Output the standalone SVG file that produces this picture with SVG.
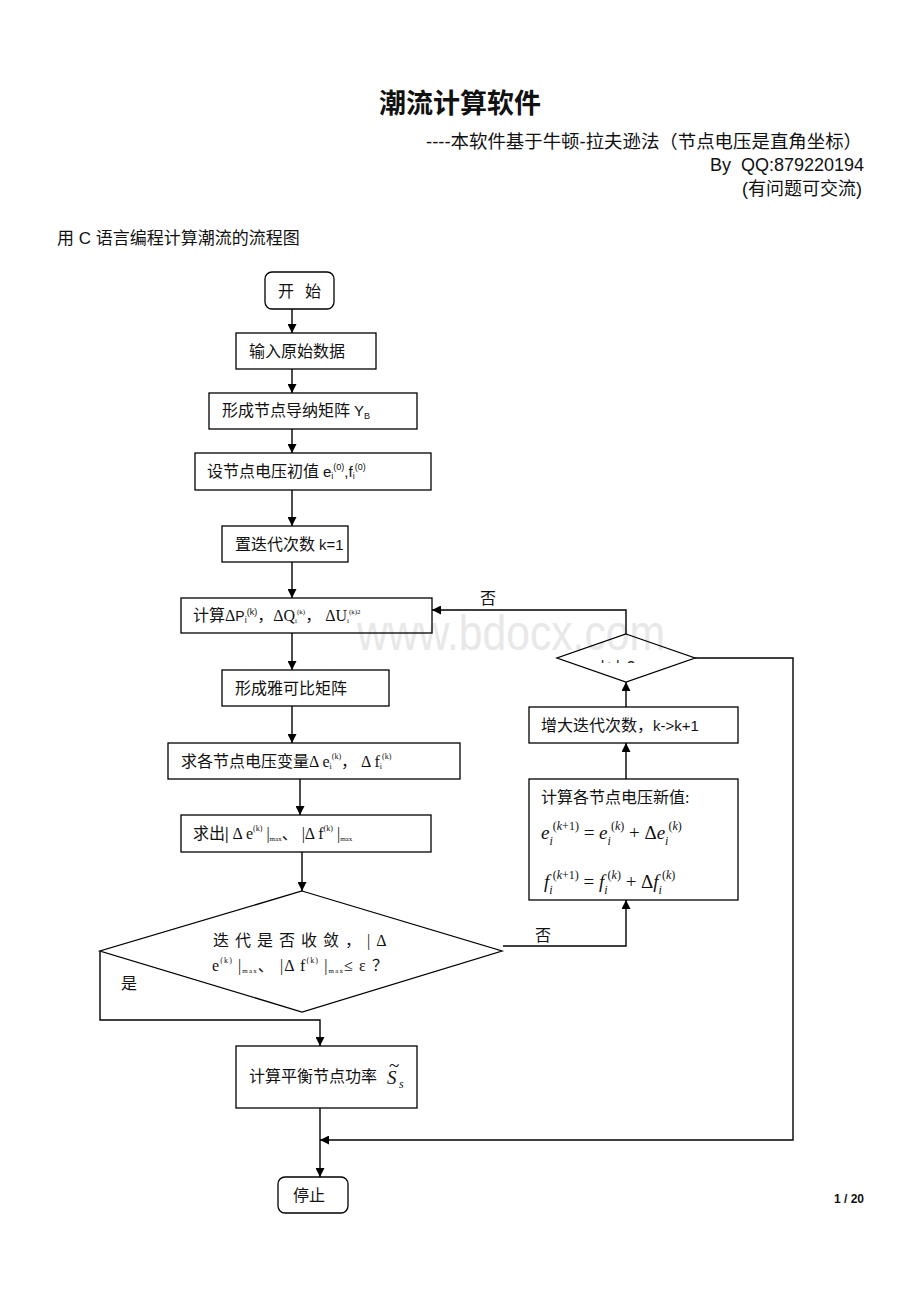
<svg xmlns="http://www.w3.org/2000/svg" width="920" height="1302" viewBox="0 0 920 1302">
<style>
.bg{fill:#fff}
.box{fill:none;stroke:#000;stroke-width:1.3}
.ln{fill:none;stroke:#000;stroke-width:1.4}
.t{font-family:"Liberation Serif","Noto Sans CJK SC",serif;font-size:16px;fill:#111}
.s{font-family:"Liberation Sans","Noto Sans CJK SC",sans-serif;fill:#111}
.m{font-family:"Liberation Serif",serif;font-style:italic;font-size:19px;fill:#111}
.mu{font-family:"Liberation Serif",serif;font-style:normal;font-size:19px;fill:#111}
.ms{font-family:"Liberation Serif",serif;font-style:italic;font-size:12px;fill:#111}
.msu{font-family:"Liberation Serif",serif;font-style:normal;font-size:12px;fill:#111}
</style>
<defs>
<marker id="ah" viewBox="0 0 10 10" refX="10" refY="5" markerWidth="9" markerHeight="9" orient="auto" markerUnits="userSpaceOnUse">
<path d="M0,0 L10,5 L0,10 z" fill="#000"/>
</marker>
<clipPath id="kclip"><rect x="590" y="640" width="60" height="23"/></clipPath>
</defs>
<rect class="bg" x="0" y="0" width="920" height="1302"/>
<text x="511" y="650" font-family="Liberation Sans,sans-serif" font-size="50" fill="#e8e8e8" text-anchor="middle" textLength="308" lengthAdjust="spacingAndGlyphs">www.bdocx.com</text>

<g id="header">
<text x="460" y="113" text-anchor="middle" class="s" font-size="27" font-weight="bold">潮流计算软件</text>
<text x="862" y="148" text-anchor="end" class="s" font-size="18" textLength="436" lengthAdjust="spacingAndGlyphs">----本软件基于牛顿-拉夫逊法（节点电压是直角坐标）</text>
<text x="864" y="171" text-anchor="end" class="s" font-size="18">By&#160; QQ:879220194</text>
<text x="862" y="195" text-anchor="end" class="s" font-size="18">(有问题可交流)</text>
<text x="57" y="244" class="s" font-size="17">用 C 语言编程计算潮流的流程图</text>
<text x="864" y="1203" text-anchor="end" class="s" font-size="12" font-weight="bold">1 / 20</text>
</g>

<g id="connectors">
<line class="ln" x1="292" y1="309" x2="292" y2="333" marker-end="url(#ah)"/>
<line class="ln" x1="292" y1="369" x2="292" y2="393" marker-end="url(#ah)"/>
<line class="ln" x1="292" y1="429" x2="292" y2="453" marker-end="url(#ah)"/>
<line class="ln" x1="292" y1="490" x2="292" y2="526" marker-end="url(#ah)"/>
<line class="ln" x1="292" y1="562" x2="292" y2="598" marker-end="url(#ah)"/>
<line class="ln" x1="292" y1="633" x2="292" y2="670" marker-end="url(#ah)"/>
<line class="ln" x1="292" y1="706" x2="292" y2="743" marker-end="url(#ah)"/>
<line class="ln" x1="300" y1="779" x2="300" y2="815" marker-end="url(#ah)"/>
<line class="ln" x1="302" y1="852" x2="302" y2="891" marker-end="url(#ah)"/>
<polyline class="ln" points="100,951 100,1020 320,1020 320,1046" marker-end="url(#ah)"/>
<line class="ln" x1="320" y1="1108" x2="320" y2="1177" marker-end="url(#ah)"/>
<polyline class="ln" points="503,946 626,946 626,900" marker-end="url(#ah)"/>
<line class="ln" x1="626" y1="779" x2="626" y2="743" marker-end="url(#ah)"/>
<line class="ln" x1="626" y1="707" x2="626" y2="682" marker-end="url(#ah)"/>
<polyline class="ln" points="626,634 626,610 432,610" marker-end="url(#ah)"/>
<polyline class="ln" points="695,658 793,658 793,1140 320,1140" marker-end="url(#ah)"/>
<text x="480" y="604" class="t" font-size="15">否</text>
<text x="535" y="941" class="t" font-size="15">否</text>
<text x="121" y="989" class="t" font-size="15">是</text>
</g>

<g id="start">
<rect class="box" x="265" y="272" width="69" height="37" rx="7"/>
<text x="278" y="297" class="t">开</text>
<text x="305" y="297" class="t">始</text>
</g>
<g id="input">
<rect class="box" x="236" y="333" width="140" height="36"/>
<text x="249" y="357" class="t">输入原始数据</text>
</g>
<g id="ybus">
<rect class="box" x="209" y="393" width="208" height="36"/>
<text x="222" y="416" class="t">形成节点导纳矩阵 <tspan class="s" font-size="15">Y</tspan><tspan class="s" font-size="9" y="419">B</tspan></text>
</g>
<g id="init">
<rect class="box" x="195" y="453" width="236" height="37"/>
<text x="207" y="477" class="t">设节点电压初值 <tspan class="s" font-size="15">e</tspan><tspan class="s" font-size="9" y="479">i</tspan><tspan class="s" font-size="9" y="470">(0)</tspan><tspan class="s" font-size="15" y="477">,f</tspan><tspan class="s" font-size="9" y="479">i</tspan><tspan class="s" font-size="9" y="470">(0)</tspan></text>
</g>
<g id="kinit">
<rect class="box" x="222" y="526" width="126" height="36"/>
<text x="235" y="550" class="t">置迭代次数 <tspan class="s" font-size="15">k=1</tspan></text>
</g>
<g id="mismatch">
<rect class="box" x="181" y="598" width="251" height="35"/>
<text x="193" y="621" class="t">计算Δ<tspan class="s" font-size="14">P</tspan><tspan class="s" font-size="9" y="623">i</tspan><tspan class="s" font-size="9" y="615">(k)</tspan><tspan y="621">，ΔQ</tspan><tspan font-size="7" y="623">i</tspan><tspan font-size="7" y="614">(k)</tspan><tspan y="621">，  ΔU</tspan><tspan font-size="7" y="623">i</tspan><tspan font-size="7" y="614">(k)2</tspan></text>
</g>
<g id="jacobian">
<rect class="box" x="222" y="670" width="167" height="36"/>
<text x="235" y="694" class="t">形成雅可比矩阵</text>
</g>
<g id="delta">
<rect class="box" x="168" y="743" width="292" height="36"/>
<text x="181" y="767" class="t">求各节点电压变量Δ e<tspan font-size="8" y="769">i</tspan><tspan font-size="8" y="759">(k)</tspan><tspan y="767">，  Δ f</tspan><tspan font-size="8" y="769">i</tspan><tspan font-size="8" y="759">(k)</tspan></text>
</g>
<g id="maxdelta">
<rect class="box" x="181" y="815" width="250" height="37"/>
<text x="193" y="839" class="t">求出<tspan font-weight="bold">|</tspan> Δ e<tspan font-size="8" y="831">(k)</tspan><tspan y="839"> |</tspan><tspan font-size="7" y="841">max</tspan><tspan y="839">、 |Δ f</tspan><tspan font-size="8" y="831">(k)</tspan><tspan y="839"> |</tspan><tspan font-size="7" y="841">max</tspan></text>
</g>
<g id="converge">
<polygon class="box" points="302,891 502,951 302,1012 100,951"/>
<text x="213" y="946" class="t" letter-spacing="6">迭代是否收敛，|Δ</text>
<text x="212" y="971" class="t" textLength="176" lengthAdjust="spacing">e<tspan font-size="8" y="963">(k)</tspan><tspan y="971"> |</tspan><tspan font-size="7" y="973">max</tspan><tspan y="971">、 |Δ f</tspan><tspan font-size="8" y="963">(k)</tspan><tspan y="971"> |</tspan><tspan font-size="7" y="973">max</tspan><tspan y="971">≤ ε ？</tspan></text>
</g>
<g id="balance">
<rect class="box" x="236" y="1046" width="181" height="62"/>
<text x="249" y="1082" class="t">计算平衡节点功率</text>
<text x="387" y="1084" class="m" font-size="20">S</text>
<text x="389" y="1072" class="mu" font-size="16">~</text>
<text x="399" y="1088" class="ms" font-size="9">s</text>
</g>
<g id="stop">
<rect class="box" x="278" y="1177" width="70" height="36" rx="7"/>
<text x="293" y="1201" class="t">停止</text>
</g>
<g id="update">
<rect class="box" x="529" y="779" width="209" height="121"/>
<text x="541" y="803" class="t">计算各节点电压新值:</text>
<text x="541" y="839" class="m">e<tspan class="ms" y="845">i</tspan><tspan class="msu" y="830">(</tspan><tspan class="ms" y="830">k</tspan><tspan class="msu" y="830">+1)</tspan><tspan class="mu" y="839"> = </tspan><tspan y="839">e</tspan><tspan class="ms" y="845">i</tspan><tspan class="msu" y="830">(</tspan><tspan class="ms" y="830">k</tspan><tspan class="msu" y="830">)</tspan><tspan class="mu" y="839"> + Δ</tspan><tspan y="839">e</tspan><tspan class="ms" y="845">i</tspan><tspan class="msu" y="830">(</tspan><tspan class="ms" y="830">k</tspan><tspan class="msu" y="830">)</tspan></text>
<text x="544" y="888" class="m">f<tspan class="ms" y="894">i</tspan><tspan class="msu" y="879">(</tspan><tspan class="ms" y="879">k</tspan><tspan class="msu" y="879">+1)</tspan><tspan class="mu" y="888"> = </tspan><tspan y="888">f</tspan><tspan class="ms" y="894">i</tspan><tspan class="msu" y="879">(</tspan><tspan class="ms" y="879">k</tspan><tspan class="msu" y="879">)</tspan><tspan class="mu" y="888"> + Δ</tspan><tspan y="888">f</tspan><tspan class="ms" y="894">i</tspan><tspan class="msu" y="879">(</tspan><tspan class="ms" y="879">k</tspan><tspan class="msu" y="879">)</tspan></text>
</g>
<g id="increment">
<rect class="box" x="529" y="707" width="209" height="36"/>
<text x="541" y="731" class="t">增大迭代次数，<tspan class="s" font-size="15">k-&gt;k+1</tspan></text>
</g>
<g id="kcheck">
<polygon class="box" points="626,634 695,658 626,682 557,658"/>
<text x="601" y="671" class="s" font-size="14" clip-path="url(#kclip)">k&gt;k  ?</text>
</g>
</svg>
